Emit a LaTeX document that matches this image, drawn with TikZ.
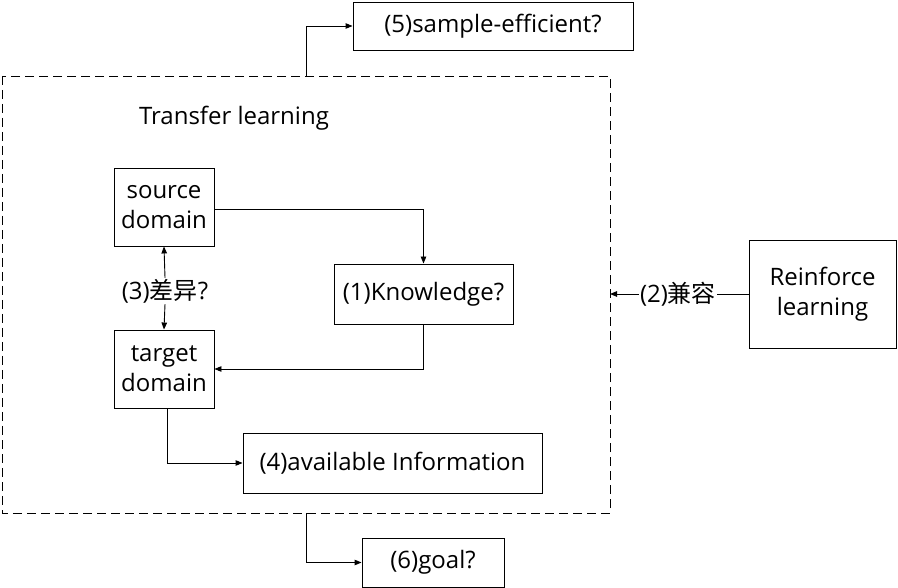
\documentclass[tikz,border=0pt]{standalone}
\usepackage{fontspec}
\setmainfont{Open Sans}
\newfontfamily\cjk{Noto Sans CJK SC}
\usetikzlibrary{arrows.meta}
\begin{document}
\begin{tikzpicture}[x=1pt,y=-1pt,
  box/.style={draw, line width=0.9pt, inner sep=0pt, font=\fontsize{24}{30}\selectfont, align=center},
  conn/.style={line width=0.9pt, -{Triangle[length=7pt,width=5.5pt]}},
  lbl/.style={font=\fontsize{24}{30}\selectfont, inner sep=1pt}]
\useasboundingbox (0,0) rectangle (898,588);
% dashed frame
\draw[dashed, dash pattern=on 9pt off 5pt, line width=0.9pt] (2,76) rectangle (610,513);
\coordinate (frametop) at (306,76);
\coordinate (framebot) at (306,513);
\coordinate (frameright) at (610,294);
\node[lbl] (title) at (234,118) {Transfer learning};
\node[box, minimum width=100pt, minimum height=78pt] (src) at (164,207) {source\\domain};
\node[box, minimum width=100pt, minimum height=78pt] (tgt) at (164,369) {target\\domain};
\node[box, minimum width=179pt, minimum height=60pt] (know) at (423.5,294) {(1)Knowledge?};
\node[box, minimum width=299pt, minimum height=60pt] (avail) at (392.5,463) {(4)available Information};
\node[box, minimum width=147pt, minimum height=108pt] (rl) at (822.5,294) {Reinforce\\learning};
\node[box, minimum width=280pt, minimum height=48pt] (eff) at (493,26) {(5)sample-efficient?};
\node[box, minimum width=142pt, minimum height=49pt] (goal) at (433,562.5) {(6)goal?};
\node[lbl, fill=white] (diff) at (165,291) {(3){\cjk 差异}?};
\node[lbl, fill=white] (compat) at (678,294) {(2){\cjk 兼容}};
% connectors
\draw[conn] (src.east |- 0,209) -| (know.north);
\draw[conn] (know.south) |- (tgt.east |- 0,369);
\draw[conn] (diff.north) -- (src.south);
\draw[conn] (diff.south) -- (tgt.north);
\draw[conn] (167,408) |- (avail.west);
\draw[line width=0.9pt] (rl.west) -- (compat.east);
\draw[conn] (compat.west) -- (frameright);
\draw[conn] (frametop) |- (eff.west);
\draw[conn] (framebot) |- (goal.west);
\end{tikzpicture}
\end{document}
